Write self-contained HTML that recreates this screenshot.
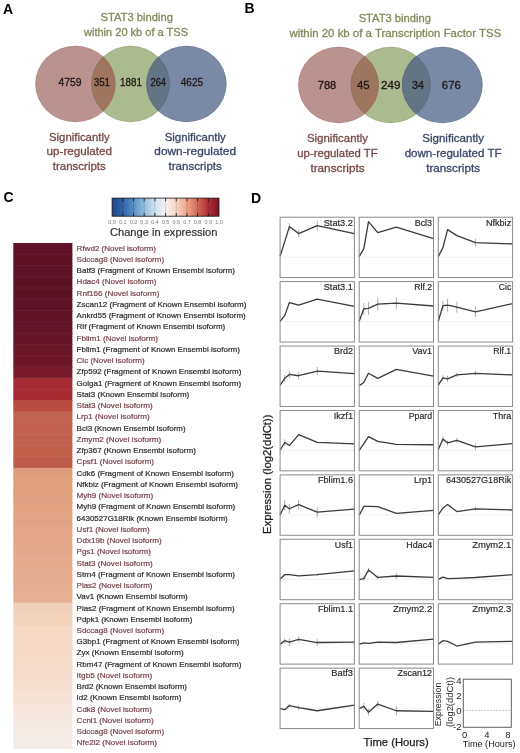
<!DOCTYPE html>
<html><head><meta charset="utf-8"><title>Figure</title>
<style>
html,body{margin:0;padding:0;background:#fff;}
body{width:520px;height:753px;overflow:hidden;}
svg{display:block;font-family:"Liberation Sans", sans-serif;will-change:transform;}
</style></head><body>
<svg width="520" height="753" viewBox="0 0 520 753">
<rect width="520" height="753" fill="#fff"/>
<text x="3" y="14" font-size="14" fill="#000" text-anchor="start" font-weight="bold">A</text>
<text x="244.5" y="13.1" font-size="14" fill="#000" text-anchor="start" font-weight="bold">B</text>
<text x="3.6" y="202.3" font-size="14" fill="#000" text-anchor="start" font-weight="bold">C</text>
<text x="251" y="203.1" font-size="14" fill="#000" text-anchor="start" font-weight="bold">D</text>
<defs><clipPath id="cpa"><ellipse cx="75.4" cy="84" rx="40.2" ry="38.2" /></clipPath><clipPath id="cga"><ellipse cx="130.5" cy="84" rx="39.4" ry="38.2" /></clipPath></defs>
<ellipse cx="75.4" cy="84" rx="40.2" ry="38.2" fill="#bc9290"/>
<ellipse cx="130.5" cy="84" rx="39.4" ry="38.2" fill="#acbb8d"/>
<ellipse cx="186.4" cy="84" rx="40.2" ry="38.2" fill="#7a8aa6"/>
<ellipse cx="130.5" cy="84" rx="39.4" ry="38.2" fill="#9f765d" clip-path="url(#cpa)"/>
<ellipse cx="186.4" cy="84" rx="40.2" ry="38.2" fill="#637485" clip-path="url(#cga)"/>
<ellipse cx="75.4" cy="84" rx="39.80" ry="37.80" fill="none" stroke="#000" stroke-opacity="0.07" stroke-width="0.9"/>
<ellipse cx="130.5" cy="84" rx="39.00" ry="37.80" fill="none" stroke="#000" stroke-opacity="0.07" stroke-width="0.9"/>
<ellipse cx="186.4" cy="84" rx="39.80" ry="37.80" fill="none" stroke="#000" stroke-opacity="0.07" stroke-width="0.9"/>
<text x="136.7" y="20.7" font-size="11.3" fill="#7f8a5c" text-anchor="middle" font-weight="normal" textLength="72.6" lengthAdjust="spacingAndGlyphs" stroke="#7f8a5c" stroke-width="0.3">STAT3 binding</text>
<text x="136" y="35.8" font-size="11.3" fill="#7f8a5c" text-anchor="middle" font-weight="normal" textLength="104" lengthAdjust="spacingAndGlyphs" stroke="#7f8a5c" stroke-width="0.3">within 20 kb of a TSS</text>
<text x="70" y="86.2" font-size="10.6" fill="#1e1616" text-anchor="middle" font-weight="normal" textLength="23" lengthAdjust="spacingAndGlyphs" stroke="#1e1616" stroke-width="0.3">4759</text>
<text x="101.9" y="86.2" font-size="10.6" fill="#1e1616" text-anchor="middle" font-weight="normal" textLength="16.3" lengthAdjust="spacingAndGlyphs" stroke="#1e1616" stroke-width="0.3">351</text>
<text x="131" y="86.2" font-size="10.6" fill="#1e1616" text-anchor="middle" font-weight="normal" textLength="22" lengthAdjust="spacingAndGlyphs" stroke="#1e1616" stroke-width="0.3">1881</text>
<text x="158.3" y="86.2" font-size="10.6" fill="#1e1616" text-anchor="middle" font-weight="normal" textLength="15.5" lengthAdjust="spacingAndGlyphs" stroke="#1e1616" stroke-width="0.3">264</text>
<text x="192" y="86.2" font-size="10.6" fill="#1e1616" text-anchor="middle" font-weight="normal" textLength="22.5" lengthAdjust="spacingAndGlyphs" stroke="#1e1616" stroke-width="0.3">4625</text>
<text x="79.3" y="140.6" font-size="11.4" fill="#764747" text-anchor="middle" font-weight="normal" textLength="60.7" lengthAdjust="spacingAndGlyphs" stroke="#764747" stroke-width="0.3">Significantly</text>
<text x="79.3" y="155.29999999999998" font-size="11.4" fill="#764747" text-anchor="middle" font-weight="normal" textLength="65.5" lengthAdjust="spacingAndGlyphs" stroke="#764747" stroke-width="0.3">up-regulated</text>
<text x="79.3" y="170.0" font-size="11.4" fill="#764747" text-anchor="middle" font-weight="normal" textLength="53" lengthAdjust="spacingAndGlyphs" stroke="#764747" stroke-width="0.3">transcripts</text>
<text x="195.2" y="140.6" font-size="11.4" fill="#3a4565" text-anchor="middle" font-weight="normal" textLength="61.1" lengthAdjust="spacingAndGlyphs" stroke="#3a4565" stroke-width="0.3">Significantly</text>
<text x="195.2" y="155.29999999999998" font-size="11.4" fill="#3a4565" text-anchor="middle" font-weight="normal" textLength="81.7" lengthAdjust="spacingAndGlyphs" stroke="#3a4565" stroke-width="0.3">down-regulated</text>
<text x="195.2" y="170.0" font-size="11.4" fill="#3a4565" text-anchor="middle" font-weight="normal" textLength="53.3" lengthAdjust="spacingAndGlyphs" stroke="#3a4565" stroke-width="0.3">transcripts</text>
<defs><clipPath id="cpb"><ellipse cx="338.5" cy="85" rx="40.4" ry="38.2" /></clipPath><clipPath id="cgb"><ellipse cx="390.6" cy="85" rx="40.1" ry="38.2" /></clipPath></defs>
<ellipse cx="338.5" cy="85" rx="40.4" ry="38.2" fill="#bc9290"/>
<ellipse cx="390.6" cy="85" rx="40.1" ry="38.2" fill="#acbb8d"/>
<ellipse cx="442.3" cy="85" rx="40.4" ry="38.2" fill="#7a8aa6"/>
<ellipse cx="390.6" cy="85" rx="40.1" ry="38.2" fill="#9f765d" clip-path="url(#cpb)"/>
<ellipse cx="442.3" cy="85" rx="40.4" ry="38.2" fill="#637485" clip-path="url(#cgb)"/>
<ellipse cx="338.5" cy="85" rx="40.00" ry="37.80" fill="none" stroke="#000" stroke-opacity="0.07" stroke-width="0.9"/>
<ellipse cx="390.6" cy="85" rx="39.70" ry="37.80" fill="none" stroke="#000" stroke-opacity="0.07" stroke-width="0.9"/>
<ellipse cx="442.3" cy="85" rx="40.00" ry="37.80" fill="none" stroke="#000" stroke-opacity="0.07" stroke-width="0.9"/>
<text x="394.8" y="21.8" font-size="11.3" fill="#7f8a5c" text-anchor="middle" font-weight="normal" textLength="72.3" lengthAdjust="spacingAndGlyphs" stroke="#7f8a5c" stroke-width="0.3">STAT3 binding</text>
<text x="395.3" y="37.1" font-size="11.3" fill="#7f8a5c" text-anchor="middle" font-weight="normal" textLength="211.8" lengthAdjust="spacingAndGlyphs" stroke="#7f8a5c" stroke-width="0.3">within 20 kb of a Transcription Factor TSS</text>
<text x="327" y="89.2" font-size="10.6" fill="#1e1616" text-anchor="middle" font-weight="normal" textLength="18.5" lengthAdjust="spacingAndGlyphs" stroke="#1e1616" stroke-width="0.3">788</text>
<text x="363.3" y="89.2" font-size="10.6" fill="#1e1616" text-anchor="middle" font-weight="normal" textLength="12.7" lengthAdjust="spacingAndGlyphs" stroke="#1e1616" stroke-width="0.3">45</text>
<text x="390.7" y="89.2" font-size="10.6" fill="#1e1616" text-anchor="middle" font-weight="normal" textLength="19.4" lengthAdjust="spacingAndGlyphs" stroke="#1e1616" stroke-width="0.3">249</text>
<text x="417.9" y="89.2" font-size="10.6" fill="#1e1616" text-anchor="middle" font-weight="normal" textLength="12" lengthAdjust="spacingAndGlyphs" stroke="#1e1616" stroke-width="0.3">34</text>
<text x="451.3" y="89.2" font-size="10.6" fill="#1e1616" text-anchor="middle" font-weight="normal" textLength="18.9" lengthAdjust="spacingAndGlyphs" stroke="#1e1616" stroke-width="0.3">676</text>
<text x="337.5" y="142.2" font-size="11.4" fill="#764747" text-anchor="middle" font-weight="normal" textLength="61.1" lengthAdjust="spacingAndGlyphs" stroke="#764747" stroke-width="0.3">Significantly</text>
<text x="337.5" y="156.89999999999998" font-size="11.4" fill="#764747" text-anchor="middle" font-weight="normal" textLength="80.4" lengthAdjust="spacingAndGlyphs" stroke="#764747" stroke-width="0.3">up-regulated TF</text>
<text x="337.5" y="171.6" font-size="11.4" fill="#764747" text-anchor="middle" font-weight="normal" textLength="54.2" lengthAdjust="spacingAndGlyphs" stroke="#764747" stroke-width="0.3">transcripts</text>
<text x="453.1" y="142.2" font-size="11.4" fill="#3a4565" text-anchor="middle" font-weight="normal" textLength="61.8" lengthAdjust="spacingAndGlyphs" stroke="#3a4565" stroke-width="0.3">Significantly</text>
<text x="453.1" y="156.89999999999998" font-size="11.4" fill="#3a4565" text-anchor="middle" font-weight="normal" textLength="96.9" lengthAdjust="spacingAndGlyphs" stroke="#3a4565" stroke-width="0.3">down-regulated TF</text>
<text x="453.1" y="171.6" font-size="11.4" fill="#3a4565" text-anchor="middle" font-weight="normal" textLength="53.9" lengthAdjust="spacingAndGlyphs" stroke="#3a4565" stroke-width="0.3">transcripts</text>
<defs><linearGradient id="cb" x1="0" x2="1" y1="0" y2="0"><stop offset="0.0" stop-color="#1d4684"/><stop offset="0.1" stop-color="#3064aa"/><stop offset="0.2" stop-color="#5990c4"/><stop offset="0.3" stop-color="#93bedc"/><stop offset="0.4" stop-color="#cfe1ee"/><stop offset="0.5" stop-color="#f5f2ef"/><stop offset="0.6" stop-color="#f8d4c0"/><stop offset="0.7" stop-color="#eda487"/><stop offset="0.8" stop-color="#d06a56"/><stop offset="0.9" stop-color="#b02d38"/><stop offset="1.0" stop-color="#7a1226"/></linearGradient></defs>
<rect x="112.1" y="198.1" width="106.9" height="18.099999999999994" fill="url(#cb)" stroke="#111" stroke-width="0.8"/>
<line x1="122.79" y1="198.1" x2="122.79" y2="216.2" stroke="#000" stroke-opacity="0.18" stroke-width="0.8"/>
<line x1="122.79" y1="198.1" x2="122.79" y2="201.29999999999998" stroke="#111" stroke-width="0.8"/>
<line x1="122.79" y1="213.0" x2="122.79" y2="216.2" stroke="#111" stroke-width="0.8"/>
<line x1="133.48" y1="198.1" x2="133.48" y2="216.2" stroke="#000" stroke-opacity="0.18" stroke-width="0.8"/>
<line x1="133.48" y1="198.1" x2="133.48" y2="201.29999999999998" stroke="#111" stroke-width="0.8"/>
<line x1="133.48" y1="213.0" x2="133.48" y2="216.2" stroke="#111" stroke-width="0.8"/>
<line x1="144.17" y1="198.1" x2="144.17" y2="216.2" stroke="#000" stroke-opacity="0.18" stroke-width="0.8"/>
<line x1="144.17" y1="198.1" x2="144.17" y2="201.29999999999998" stroke="#111" stroke-width="0.8"/>
<line x1="144.17" y1="213.0" x2="144.17" y2="216.2" stroke="#111" stroke-width="0.8"/>
<line x1="154.86" y1="198.1" x2="154.86" y2="216.2" stroke="#000" stroke-opacity="0.18" stroke-width="0.8"/>
<line x1="154.86" y1="198.1" x2="154.86" y2="201.29999999999998" stroke="#111" stroke-width="0.8"/>
<line x1="154.86" y1="213.0" x2="154.86" y2="216.2" stroke="#111" stroke-width="0.8"/>
<line x1="165.55" y1="198.1" x2="165.55" y2="216.2" stroke="#000" stroke-opacity="0.18" stroke-width="0.8"/>
<line x1="165.55" y1="198.1" x2="165.55" y2="201.29999999999998" stroke="#111" stroke-width="0.8"/>
<line x1="165.55" y1="213.0" x2="165.55" y2="216.2" stroke="#111" stroke-width="0.8"/>
<line x1="176.24" y1="198.1" x2="176.24" y2="216.2" stroke="#000" stroke-opacity="0.18" stroke-width="0.8"/>
<line x1="176.24" y1="198.1" x2="176.24" y2="201.29999999999998" stroke="#111" stroke-width="0.8"/>
<line x1="176.24" y1="213.0" x2="176.24" y2="216.2" stroke="#111" stroke-width="0.8"/>
<line x1="186.93" y1="198.1" x2="186.93" y2="216.2" stroke="#000" stroke-opacity="0.18" stroke-width="0.8"/>
<line x1="186.93" y1="198.1" x2="186.93" y2="201.29999999999998" stroke="#111" stroke-width="0.8"/>
<line x1="186.93" y1="213.0" x2="186.93" y2="216.2" stroke="#111" stroke-width="0.8"/>
<line x1="197.62" y1="198.1" x2="197.62" y2="216.2" stroke="#000" stroke-opacity="0.18" stroke-width="0.8"/>
<line x1="197.62" y1="198.1" x2="197.62" y2="201.29999999999998" stroke="#111" stroke-width="0.8"/>
<line x1="197.62" y1="213.0" x2="197.62" y2="216.2" stroke="#111" stroke-width="0.8"/>
<line x1="208.31" y1="198.1" x2="208.31" y2="216.2" stroke="#000" stroke-opacity="0.18" stroke-width="0.8"/>
<line x1="208.31" y1="198.1" x2="208.31" y2="201.29999999999998" stroke="#111" stroke-width="0.8"/>
<line x1="208.31" y1="213.0" x2="208.31" y2="216.2" stroke="#111" stroke-width="0.8"/>
<text x="112.10" y="224.4" font-size="5.9" fill="#7a7a7a" text-anchor="middle" font-weight="normal" textLength="7.6" lengthAdjust="spacingAndGlyphs">0.0</text>
<text x="122.79" y="224.4" font-size="5.9" fill="#7a7a7a" text-anchor="middle" font-weight="normal" textLength="7.6" lengthAdjust="spacingAndGlyphs">0.1</text>
<text x="133.48" y="224.4" font-size="5.9" fill="#7a7a7a" text-anchor="middle" font-weight="normal" textLength="7.6" lengthAdjust="spacingAndGlyphs">0.2</text>
<text x="144.17" y="224.4" font-size="5.9" fill="#7a7a7a" text-anchor="middle" font-weight="normal" textLength="7.6" lengthAdjust="spacingAndGlyphs">0.3</text>
<text x="154.86" y="224.4" font-size="5.9" fill="#7a7a7a" text-anchor="middle" font-weight="normal" textLength="7.6" lengthAdjust="spacingAndGlyphs">0.4</text>
<text x="165.55" y="224.4" font-size="5.9" fill="#7a7a7a" text-anchor="middle" font-weight="normal" textLength="7.6" lengthAdjust="spacingAndGlyphs">0.5</text>
<text x="176.24" y="224.4" font-size="5.9" fill="#7a7a7a" text-anchor="middle" font-weight="normal" textLength="7.6" lengthAdjust="spacingAndGlyphs">0.6</text>
<text x="186.93" y="224.4" font-size="5.9" fill="#7a7a7a" text-anchor="middle" font-weight="normal" textLength="7.6" lengthAdjust="spacingAndGlyphs">0.7</text>
<text x="197.62" y="224.4" font-size="5.9" fill="#7a7a7a" text-anchor="middle" font-weight="normal" textLength="7.6" lengthAdjust="spacingAndGlyphs">0.8</text>
<text x="208.31" y="224.4" font-size="5.9" fill="#7a7a7a" text-anchor="middle" font-weight="normal" textLength="7.6" lengthAdjust="spacingAndGlyphs">0.9</text>
<text x="219.00" y="224.4" font-size="5.9" fill="#7a7a7a" text-anchor="middle" font-weight="normal" textLength="7.6" lengthAdjust="spacingAndGlyphs">1.0</text>
<text x="163.7" y="235.8" font-size="11.2" fill="#2e2e2e" text-anchor="middle" font-weight="normal" textLength="107.5" lengthAdjust="spacingAndGlyphs" stroke="#2e2e2e" stroke-width="0.2">Change in expression</text>
<rect x="13.3" y="243.00" width="59.10" height="12.04" fill="#611127"/>
<text x="76.6" y="250.70" font-size="8.0" fill="#76404a" text-anchor="start" font-weight="normal" textLength="79.40" lengthAdjust="spacingAndGlyphs" stroke="#76404a" stroke-width="0.2">Rfwd2 (Novel isoform)</text>
<rect x="13.3" y="254.24" width="59.10" height="12.04" fill="#5e1125"/>
<text x="76.6" y="261.94" font-size="8.0" fill="#76404a" text-anchor="start" font-weight="normal" textLength="87.51" lengthAdjust="spacingAndGlyphs" stroke="#76404a" stroke-width="0.2">Sdccag8 (Novel isoform)</text>
<rect x="13.3" y="265.49" width="59.10" height="12.04" fill="#5e1125"/>
<text x="76.6" y="273.19" font-size="8.0" fill="#2a2a2a" text-anchor="start" font-weight="normal" textLength="158.31" lengthAdjust="spacingAndGlyphs" stroke="#2a2a2a" stroke-width="0.2">Batf3 (Fragment of Known Ensembl isoform)</text>
<rect x="13.3" y="276.73" width="59.10" height="12.04" fill="#5e1125"/>
<text x="76.6" y="284.43" font-size="8.0" fill="#76404a" text-anchor="start" font-weight="normal" textLength="79.89" lengthAdjust="spacingAndGlyphs" stroke="#76404a" stroke-width="0.2">Hdac4 (Novel isoform)</text>
<rect x="13.3" y="287.98" width="59.10" height="12.04" fill="#5e1125"/>
<text x="76.6" y="295.68" font-size="8.0" fill="#76404a" text-anchor="start" font-weight="normal" textLength="82.77" lengthAdjust="spacingAndGlyphs" stroke="#76404a" stroke-width="0.2">Rnf166 (Novel isoform)</text>
<rect x="13.3" y="299.22" width="59.10" height="12.04" fill="#5e1125"/>
<text x="76.6" y="306.92" font-size="8.0" fill="#2a2a2a" text-anchor="start" font-weight="normal" textLength="169.71" lengthAdjust="spacingAndGlyphs" stroke="#2a2a2a" stroke-width="0.2">Zscan12 (Fragment of Known Ensembl isoform)</text>
<rect x="13.3" y="310.46" width="59.10" height="12.04" fill="#5f1226"/>
<text x="76.6" y="318.16" font-size="8.0" fill="#2a2a2a" text-anchor="start" font-weight="normal" textLength="169.16" lengthAdjust="spacingAndGlyphs" stroke="#2a2a2a" stroke-width="0.2">Ankrd55 (Fragment of Known Ensembl isoform)</text>
<rect x="13.3" y="321.71" width="59.10" height="12.04" fill="#621327"/>
<text x="76.6" y="329.41" font-size="8.0" fill="#2a2a2a" text-anchor="start" font-weight="normal" textLength="148.64" lengthAdjust="spacingAndGlyphs" stroke="#2a2a2a" stroke-width="0.2">Rlf (Fragment of Known Ensembl isoform)</text>
<rect x="13.3" y="332.95" width="59.10" height="12.04" fill="#661428"/>
<text x="76.6" y="340.65" font-size="8.0" fill="#76404a" text-anchor="start" font-weight="normal" textLength="81.25" lengthAdjust="spacingAndGlyphs" stroke="#76404a" stroke-width="0.2">Fblim1 (Novel isoform)</text>
<rect x="13.3" y="344.20" width="59.10" height="12.04" fill="#6b1629"/>
<text x="76.6" y="351.90" font-size="8.0" fill="#2a2a2a" text-anchor="start" font-weight="normal" textLength="163.29" lengthAdjust="spacingAndGlyphs" stroke="#2a2a2a" stroke-width="0.2">Fblim1 (Fragment of Known Ensembl isoform)</text>
<rect x="13.3" y="355.44" width="59.10" height="12.04" fill="#6e1729"/>
<text x="76.6" y="363.14" font-size="8.0" fill="#76404a" text-anchor="start" font-weight="normal" textLength="68.04" lengthAdjust="spacingAndGlyphs" stroke="#76404a" stroke-width="0.2">Cic (Novel isoform)</text>
<rect x="13.3" y="366.68" width="59.10" height="12.04" fill="#781b2c"/>
<text x="76.6" y="374.38" font-size="8.0" fill="#2a2a2a" text-anchor="start" font-weight="normal" textLength="164.75" lengthAdjust="spacingAndGlyphs" stroke="#2a2a2a" stroke-width="0.2">Zfp592 (Fragment of Known Ensembl isoform)</text>
<rect x="13.3" y="377.93" width="59.10" height="12.04" fill="#a52a32"/>
<text x="76.6" y="385.63" font-size="8.0" fill="#2a2a2a" text-anchor="start" font-weight="normal" textLength="164.52" lengthAdjust="spacingAndGlyphs" stroke="#2a2a2a" stroke-width="0.2">Golga1 (Fragment of Known Ensembl isoform)</text>
<rect x="13.3" y="389.17" width="59.10" height="12.04" fill="#a72b32"/>
<text x="76.6" y="396.87" font-size="8.0" fill="#2a2a2a" text-anchor="start" font-weight="normal" textLength="112.71" lengthAdjust="spacingAndGlyphs" stroke="#2a2a2a" stroke-width="0.2">Stat3 (Known Ensembl isoform)</text>
<rect x="13.3" y="400.42" width="59.10" height="12.04" fill="#bd4c40"/>
<text x="76.6" y="408.12" font-size="8.0" fill="#76404a" text-anchor="start" font-weight="normal" textLength="76.19" lengthAdjust="spacingAndGlyphs" stroke="#76404a" stroke-width="0.2">Stat3 (Novel isoform)</text>
<rect x="13.3" y="411.66" width="59.10" height="12.04" fill="#c2644f"/>
<text x="76.6" y="419.36" font-size="8.0" fill="#76404a" text-anchor="start" font-weight="normal" textLength="73.13" lengthAdjust="spacingAndGlyphs" stroke="#76404a" stroke-width="0.2">Lrp1 (Novel isoform)</text>
<rect x="13.3" y="422.90" width="59.10" height="12.04" fill="#c1624e"/>
<text x="76.6" y="430.60" font-size="8.0" fill="#2a2a2a" text-anchor="start" font-weight="normal" textLength="109.01" lengthAdjust="spacingAndGlyphs" stroke="#2a2a2a" stroke-width="0.2">Bcl3 (Known Ensembl isoform)</text>
<rect x="13.3" y="434.15" width="59.10" height="12.04" fill="#c0614c"/>
<text x="76.6" y="441.85" font-size="8.0" fill="#76404a" text-anchor="start" font-weight="normal" textLength="84.71" lengthAdjust="spacingAndGlyphs" stroke="#76404a" stroke-width="0.2">Zmym2 (Novel isoform)</text>
<rect x="13.3" y="445.39" width="59.10" height="12.04" fill="#bf604b"/>
<text x="76.6" y="453.09" font-size="8.0" fill="#2a2a2a" text-anchor="start" font-weight="normal" textLength="119.23" lengthAdjust="spacingAndGlyphs" stroke="#2a2a2a" stroke-width="0.2">Zfp367 (Known Ensembl isoform)</text>
<rect x="13.3" y="456.64" width="59.10" height="12.04" fill="#be5e4a"/>
<text x="76.6" y="464.34" font-size="8.0" fill="#76404a" text-anchor="start" font-weight="normal" textLength="77.43" lengthAdjust="spacingAndGlyphs" stroke="#76404a" stroke-width="0.2">Cpsf1 (Novel isoform)</text>
<rect x="13.3" y="467.88" width="59.10" height="12.04" fill="#df9c7a"/>
<text x="76.6" y="475.58" font-size="8.0" fill="#2a2a2a" text-anchor="start" font-weight="normal" textLength="157.38" lengthAdjust="spacingAndGlyphs" stroke="#2a2a2a" stroke-width="0.2">Cdk6 (Fragment of Known Ensembl isoform)</text>
<rect x="13.3" y="479.12" width="59.10" height="12.04" fill="#e09e7c"/>
<text x="76.6" y="486.82" font-size="8.0" fill="#2a2a2a" text-anchor="start" font-weight="normal" textLength="161.44" lengthAdjust="spacingAndGlyphs" stroke="#2a2a2a" stroke-width="0.2">Nfkbiz (Fragment of Known Ensembl isoform)</text>
<rect x="13.3" y="490.37" width="59.10" height="12.04" fill="#e0a07f"/>
<text x="76.6" y="498.07" font-size="8.0" fill="#76404a" text-anchor="start" font-weight="normal" textLength="76.59" lengthAdjust="spacingAndGlyphs" stroke="#76404a" stroke-width="0.2">Myh9 (Novel isoform)</text>
<rect x="13.3" y="501.61" width="59.10" height="12.04" fill="#e1a181"/>
<text x="76.6" y="509.31" font-size="8.0" fill="#2a2a2a" text-anchor="start" font-weight="normal" textLength="158.64" lengthAdjust="spacingAndGlyphs" stroke="#2a2a2a" stroke-width="0.2">Myh9 (Fragment of Known Ensembl isoform)</text>
<rect x="13.3" y="512.86" width="59.10" height="12.04" fill="#e2a383"/>
<text x="76.6" y="520.56" font-size="8.0" fill="#2a2a2a" text-anchor="start" font-weight="normal" textLength="151.16" lengthAdjust="spacingAndGlyphs" stroke="#2a2a2a" stroke-width="0.2">6430527G18Rik (Known Ensembl isoform)</text>
<rect x="13.3" y="524.10" width="59.10" height="12.04" fill="#e3a585"/>
<text x="76.6" y="531.80" font-size="8.0" fill="#76404a" text-anchor="start" font-weight="normal" textLength="73.14" lengthAdjust="spacingAndGlyphs" stroke="#76404a" stroke-width="0.2">Usf1 (Novel isoform)</text>
<rect x="13.3" y="535.34" width="59.10" height="12.04" fill="#e3a788"/>
<text x="76.6" y="543.04" font-size="8.0" fill="#76404a" text-anchor="start" font-weight="normal" textLength="85.01" lengthAdjust="spacingAndGlyphs" stroke="#76404a" stroke-width="0.2">Ddx19b (Novel isoform)</text>
<rect x="13.3" y="546.59" width="59.10" height="12.04" fill="#e4a98a"/>
<text x="76.6" y="554.29" font-size="8.0" fill="#76404a" text-anchor="start" font-weight="normal" textLength="74.24" lengthAdjust="spacingAndGlyphs" stroke="#76404a" stroke-width="0.2">Pgs1 (Novel isoform)</text>
<rect x="13.3" y="557.83" width="59.10" height="12.04" fill="#e5ab8c"/>
<text x="76.6" y="565.53" font-size="8.0" fill="#76404a" text-anchor="start" font-weight="normal" textLength="76.19" lengthAdjust="spacingAndGlyphs" stroke="#76404a" stroke-width="0.2">Stat3 (Novel isoform)</text>
<rect x="13.3" y="569.08" width="59.10" height="12.04" fill="#e6ac8e"/>
<text x="76.6" y="576.78" font-size="8.0" fill="#2a2a2a" text-anchor="start" font-weight="normal" textLength="158.39" lengthAdjust="spacingAndGlyphs" stroke="#2a2a2a" stroke-width="0.2">Strn4 (Fragment of Known Ensembl isoform)</text>
<rect x="13.3" y="580.32" width="59.10" height="12.04" fill="#e6ae91"/>
<text x="76.6" y="588.02" font-size="8.0" fill="#76404a" text-anchor="start" font-weight="normal" textLength="75.91" lengthAdjust="spacingAndGlyphs" stroke="#76404a" stroke-width="0.2">Pias2 (Novel isoform)</text>
<rect x="13.3" y="591.56" width="59.10" height="12.04" fill="#e7b093"/>
<text x="76.6" y="599.26" font-size="8.0" fill="#2a2a2a" text-anchor="start" font-weight="normal" textLength="111.13" lengthAdjust="spacingAndGlyphs" stroke="#2a2a2a" stroke-width="0.2">Vav1 (Known Ensembl isoform)</text>
<rect x="13.3" y="602.81" width="59.10" height="12.04" fill="#f2cfb8"/>
<text x="76.6" y="610.51" font-size="8.0" fill="#2a2a2a" text-anchor="start" font-weight="normal" textLength="157.96" lengthAdjust="spacingAndGlyphs" stroke="#2a2a2a" stroke-width="0.2">Pias2 (Fragment of Known Ensembl isoform)</text>
<rect x="13.3" y="614.05" width="59.10" height="12.04" fill="#f4d3bd"/>
<text x="76.6" y="621.75" font-size="8.0" fill="#2a2a2a" text-anchor="start" font-weight="normal" textLength="115.71" lengthAdjust="spacingAndGlyphs" stroke="#2a2a2a" stroke-width="0.2">Pdpk1 (Known Ensembl isoform)</text>
<rect x="13.3" y="625.30" width="59.10" height="12.04" fill="#f6d8c4"/>
<text x="76.6" y="633.00" font-size="8.0" fill="#76404a" text-anchor="start" font-weight="normal" textLength="87.51" lengthAdjust="spacingAndGlyphs" stroke="#76404a" stroke-width="0.2">Sdccag8 (Novel isoform)</text>
<rect x="13.3" y="636.54" width="59.10" height="12.04" fill="#f6d9c6"/>
<text x="76.6" y="644.24" font-size="8.0" fill="#2a2a2a" text-anchor="start" font-weight="normal" textLength="162.87" lengthAdjust="spacingAndGlyphs" stroke="#2a2a2a" stroke-width="0.2">G3bp1 (Fragment of Known Ensembl isoform)</text>
<rect x="13.3" y="647.78" width="59.10" height="12.04" fill="#f6dac8"/>
<text x="76.6" y="655.48" font-size="8.0" fill="#2a2a2a" text-anchor="start" font-weight="normal" textLength="107.00" lengthAdjust="spacingAndGlyphs" stroke="#2a2a2a" stroke-width="0.2">Zyx (Known Ensembl isoform)</text>
<rect x="13.3" y="659.03" width="59.10" height="12.04" fill="#f6dbca"/>
<text x="76.6" y="666.73" font-size="8.0" fill="#2a2a2a" text-anchor="start" font-weight="normal" textLength="164.72" lengthAdjust="spacingAndGlyphs" stroke="#2a2a2a" stroke-width="0.2">Rbm47 (Fragment of Known Ensembl isoform)</text>
<rect x="13.3" y="670.27" width="59.10" height="12.04" fill="#f5dccc"/>
<text x="76.6" y="677.97" font-size="8.0" fill="#76404a" text-anchor="start" font-weight="normal" textLength="75.65" lengthAdjust="spacingAndGlyphs" stroke="#76404a" stroke-width="0.2">Itgb5 (Novel isoform)</text>
<rect x="13.3" y="681.52" width="59.10" height="12.04" fill="#f5dfd1"/>
<text x="76.6" y="689.22" font-size="8.0" fill="#2a2a2a" text-anchor="start" font-weight="normal" textLength="110.44" lengthAdjust="spacingAndGlyphs" stroke="#2a2a2a" stroke-width="0.2">Brd2 (Known Ensembl isoform)</text>
<rect x="13.3" y="692.76" width="59.10" height="12.04" fill="#f5e2d6"/>
<text x="76.6" y="700.46" font-size="8.0" fill="#2a2a2a" text-anchor="start" font-weight="normal" textLength="104.84" lengthAdjust="spacingAndGlyphs" stroke="#2a2a2a" stroke-width="0.2">Id2 (Known Ensembl isoform)</text>
<rect x="13.3" y="704.00" width="59.10" height="12.04" fill="#f5e5da"/>
<text x="76.6" y="711.70" font-size="8.0" fill="#76404a" text-anchor="start" font-weight="normal" textLength="75.34" lengthAdjust="spacingAndGlyphs" stroke="#76404a" stroke-width="0.2">Cdk8 (Novel isoform)</text>
<rect x="13.3" y="715.25" width="59.10" height="12.04" fill="#f4e7df"/>
<text x="76.6" y="722.95" font-size="8.0" fill="#76404a" text-anchor="start" font-weight="normal" textLength="77.10" lengthAdjust="spacingAndGlyphs" stroke="#76404a" stroke-width="0.2">Ccnl1 (Novel isoform)</text>
<rect x="13.3" y="726.49" width="59.10" height="12.04" fill="#f4e9e3"/>
<text x="76.6" y="734.19" font-size="8.0" fill="#76404a" text-anchor="start" font-weight="normal" textLength="87.51" lengthAdjust="spacingAndGlyphs" stroke="#76404a" stroke-width="0.2">Sdccag8 (Novel isoform)</text>
<rect x="13.3" y="737.74" width="59.10" height="11.24" fill="#f3ebe6"/>
<text x="76.6" y="745.44" font-size="8.0" fill="#76404a" text-anchor="start" font-weight="normal" textLength="80.46" lengthAdjust="spacingAndGlyphs" stroke="#76404a" stroke-width="0.2">Nfe2l2 (Novel isoform)</text>
<line x1="13.3" y1="254.24" x2="72.4" y2="254.24" stroke="#fff" stroke-opacity="0.07" stroke-width="0.8"/>
<line x1="13.3" y1="265.49" x2="72.4" y2="265.49" stroke="#fff" stroke-opacity="0.07" stroke-width="0.8"/>
<line x1="13.3" y1="276.73" x2="72.4" y2="276.73" stroke="#fff" stroke-opacity="0.07" stroke-width="0.8"/>
<line x1="13.3" y1="287.98" x2="72.4" y2="287.98" stroke="#fff" stroke-opacity="0.07" stroke-width="0.8"/>
<line x1="13.3" y1="299.22" x2="72.4" y2="299.22" stroke="#fff" stroke-opacity="0.07" stroke-width="0.8"/>
<line x1="13.3" y1="310.46" x2="72.4" y2="310.46" stroke="#fff" stroke-opacity="0.07" stroke-width="0.8"/>
<line x1="13.3" y1="321.71" x2="72.4" y2="321.71" stroke="#fff" stroke-opacity="0.07" stroke-width="0.8"/>
<line x1="13.3" y1="332.95" x2="72.4" y2="332.95" stroke="#fff" stroke-opacity="0.07" stroke-width="0.8"/>
<line x1="13.3" y1="344.20" x2="72.4" y2="344.20" stroke="#fff" stroke-opacity="0.07" stroke-width="0.8"/>
<line x1="13.3" y1="355.44" x2="72.4" y2="355.44" stroke="#fff" stroke-opacity="0.07" stroke-width="0.8"/>
<line x1="13.3" y1="366.68" x2="72.4" y2="366.68" stroke="#fff" stroke-opacity="0.07" stroke-width="0.8"/>
<line x1="13.3" y1="377.93" x2="72.4" y2="377.93" stroke="#fff" stroke-opacity="0.07" stroke-width="0.8"/>
<line x1="13.3" y1="389.17" x2="72.4" y2="389.17" stroke="#fff" stroke-opacity="0.07" stroke-width="0.8"/>
<line x1="13.3" y1="400.42" x2="72.4" y2="400.42" stroke="#fff" stroke-opacity="0.07" stroke-width="0.8"/>
<line x1="13.3" y1="411.66" x2="72.4" y2="411.66" stroke="#fff" stroke-opacity="0.07" stroke-width="0.8"/>
<line x1="13.3" y1="422.90" x2="72.4" y2="422.90" stroke="#fff" stroke-opacity="0.07" stroke-width="0.8"/>
<line x1="13.3" y1="434.15" x2="72.4" y2="434.15" stroke="#fff" stroke-opacity="0.07" stroke-width="0.8"/>
<line x1="13.3" y1="445.39" x2="72.4" y2="445.39" stroke="#fff" stroke-opacity="0.07" stroke-width="0.8"/>
<line x1="13.3" y1="456.64" x2="72.4" y2="456.64" stroke="#fff" stroke-opacity="0.07" stroke-width="0.8"/>
<line x1="13.3" y1="467.88" x2="72.4" y2="467.88" stroke="#fff" stroke-opacity="0.07" stroke-width="0.8"/>
<line x1="13.3" y1="479.12" x2="72.4" y2="479.12" stroke="#fff" stroke-opacity="0.07" stroke-width="0.8"/>
<line x1="13.3" y1="490.37" x2="72.4" y2="490.37" stroke="#fff" stroke-opacity="0.07" stroke-width="0.8"/>
<line x1="13.3" y1="501.61" x2="72.4" y2="501.61" stroke="#fff" stroke-opacity="0.07" stroke-width="0.8"/>
<line x1="13.3" y1="512.86" x2="72.4" y2="512.86" stroke="#fff" stroke-opacity="0.07" stroke-width="0.8"/>
<line x1="13.3" y1="524.10" x2="72.4" y2="524.10" stroke="#fff" stroke-opacity="0.07" stroke-width="0.8"/>
<line x1="13.3" y1="535.34" x2="72.4" y2="535.34" stroke="#fff" stroke-opacity="0.07" stroke-width="0.8"/>
<line x1="13.3" y1="546.59" x2="72.4" y2="546.59" stroke="#fff" stroke-opacity="0.07" stroke-width="0.8"/>
<line x1="13.3" y1="557.83" x2="72.4" y2="557.83" stroke="#fff" stroke-opacity="0.07" stroke-width="0.8"/>
<line x1="13.3" y1="569.08" x2="72.4" y2="569.08" stroke="#fff" stroke-opacity="0.07" stroke-width="0.8"/>
<line x1="13.3" y1="580.32" x2="72.4" y2="580.32" stroke="#fff" stroke-opacity="0.07" stroke-width="0.8"/>
<line x1="13.3" y1="591.56" x2="72.4" y2="591.56" stroke="#fff" stroke-opacity="0.07" stroke-width="0.8"/>
<line x1="13.3" y1="602.81" x2="72.4" y2="602.81" stroke="#fff" stroke-opacity="0.07" stroke-width="0.8"/>
<line x1="13.3" y1="614.05" x2="72.4" y2="614.05" stroke="#fff" stroke-opacity="0.07" stroke-width="0.8"/>
<line x1="13.3" y1="625.30" x2="72.4" y2="625.30" stroke="#fff" stroke-opacity="0.07" stroke-width="0.8"/>
<line x1="13.3" y1="636.54" x2="72.4" y2="636.54" stroke="#fff" stroke-opacity="0.07" stroke-width="0.8"/>
<line x1="13.3" y1="647.78" x2="72.4" y2="647.78" stroke="#fff" stroke-opacity="0.07" stroke-width="0.8"/>
<line x1="13.3" y1="659.03" x2="72.4" y2="659.03" stroke="#fff" stroke-opacity="0.07" stroke-width="0.8"/>
<line x1="13.3" y1="670.27" x2="72.4" y2="670.27" stroke="#fff" stroke-opacity="0.07" stroke-width="0.8"/>
<line x1="13.3" y1="681.52" x2="72.4" y2="681.52" stroke="#fff" stroke-opacity="0.07" stroke-width="0.8"/>
<line x1="13.3" y1="692.76" x2="72.4" y2="692.76" stroke="#fff" stroke-opacity="0.07" stroke-width="0.8"/>
<line x1="13.3" y1="704.00" x2="72.4" y2="704.00" stroke="#fff" stroke-opacity="0.07" stroke-width="0.8"/>
<line x1="13.3" y1="715.25" x2="72.4" y2="715.25" stroke="#fff" stroke-opacity="0.07" stroke-width="0.8"/>
<line x1="13.3" y1="726.49" x2="72.4" y2="726.49" stroke="#fff" stroke-opacity="0.07" stroke-width="0.8"/>
<line x1="13.3" y1="737.74" x2="72.4" y2="737.74" stroke="#fff" stroke-opacity="0.07" stroke-width="0.8"/>
<line x1="280.1" y1="257.20" x2="354.40" y2="257.20" stroke="#f0f0f0" stroke-width="1"/>
<line x1="289.39" y1="223.10" x2="289.39" y2="230.10" stroke="#999" stroke-width="0.8"/>
<line x1="298.68" y1="230.10" x2="298.68" y2="237.10" stroke="#999" stroke-width="0.8"/>
<line x1="317.25" y1="220.60" x2="317.25" y2="230.60" stroke="#999" stroke-width="0.8"/>
<line x1="354.40" y1="230.60" x2="354.40" y2="236.60" stroke="#999" stroke-width="0.8"/>
<polyline points="280.10,256.30 284.74,241.60 289.39,226.60 298.68,233.60 317.25,225.60 354.40,233.60" fill="none" stroke="#3a3a3a" stroke-width="1.3" stroke-linejoin="round"/>
<rect x="280.1" y="217.2" width="74.3" height="60.4" fill="none" stroke="#8a8a8a" stroke-width="1"/>
<text x="353.00" y="225.50" font-size="9.4" fill="#2a2a2a" text-anchor="end" font-weight="normal" textLength="29.34" lengthAdjust="spacingAndGlyphs" stroke="#2a2a2a" stroke-width="0.2">Stat3.2</text>
<line x1="359.2" y1="257.20" x2="433.50" y2="257.20" stroke="#f0f0f0" stroke-width="1"/>
<polyline points="359.20,256.60 363.84,248.60 368.49,221.60 377.77,232.60 396.35,227.10 433.50,238.60" fill="none" stroke="#3a3a3a" stroke-width="1.3" stroke-linejoin="round"/>
<rect x="359.2" y="217.2" width="74.3" height="60.4" fill="none" stroke="#8a8a8a" stroke-width="1"/>
<text x="432.10" y="225.50" font-size="9.4" fill="#2a2a2a" text-anchor="end" font-weight="normal" textLength="17.41" lengthAdjust="spacingAndGlyphs" stroke="#2a2a2a" stroke-width="0.2">Bcl3</text>
<line x1="438.3" y1="257.20" x2="512.60" y2="257.20" stroke="#f0f0f0" stroke-width="1"/>
<line x1="475.45" y1="238.60" x2="475.45" y2="246.60" stroke="#999" stroke-width="0.8"/>
<polyline points="438.30,256.60 442.94,247.60 447.59,229.60 456.88,235.60 475.45,242.60 512.60,243.90" fill="none" stroke="#3a3a3a" stroke-width="1.3" stroke-linejoin="round"/>
<rect x="438.3" y="217.2" width="74.3" height="60.4" fill="none" stroke="#8a8a8a" stroke-width="1"/>
<text x="511.20" y="225.50" font-size="9.4" fill="#2a2a2a" text-anchor="end" font-weight="normal" textLength="25.25" lengthAdjust="spacingAndGlyphs" stroke="#2a2a2a" stroke-width="0.2">Nfkbiz</text>
<line x1="280.1" y1="321.62" x2="354.40" y2="321.62" stroke="#f0f0f0" stroke-width="1"/>
<polyline points="280.10,321.22 284.74,315.62 289.39,302.52 298.68,305.22 317.25,299.02 354.40,306.32" fill="none" stroke="#3a3a3a" stroke-width="1.3" stroke-linejoin="round"/>
<rect x="280.1" y="281.62" width="74.3" height="60.4" fill="none" stroke="#8a8a8a" stroke-width="1"/>
<text x="353.00" y="289.92" font-size="9.4" fill="#2a2a2a" text-anchor="end" font-weight="normal" textLength="29.34" lengthAdjust="spacingAndGlyphs" stroke="#2a2a2a" stroke-width="0.2">Stat3.1</text>
<line x1="359.2" y1="321.62" x2="433.50" y2="321.62" stroke="#f0f0f0" stroke-width="1"/>
<line x1="363.84" y1="303.02" x2="363.84" y2="314.62" stroke="#999" stroke-width="0.8"/>
<line x1="368.49" y1="301.82" x2="368.49" y2="314.82" stroke="#999" stroke-width="0.8"/>
<line x1="377.77" y1="297.92" x2="377.77" y2="310.32" stroke="#999" stroke-width="0.8"/>
<line x1="396.35" y1="297.02" x2="396.35" y2="309.42" stroke="#999" stroke-width="0.8"/>
<line x1="433.50" y1="300.02" x2="433.50" y2="312.02" stroke="#999" stroke-width="0.8"/>
<polyline points="359.20,321.22 363.84,308.82 368.49,308.32 377.77,304.12 396.35,303.22 433.50,306.02" fill="none" stroke="#3a3a3a" stroke-width="1.3" stroke-linejoin="round"/>
<rect x="359.2" y="281.62" width="74.3" height="60.4" fill="none" stroke="#8a8a8a" stroke-width="1"/>
<text x="432.10" y="289.92" font-size="9.4" fill="#2a2a2a" text-anchor="end" font-weight="normal" textLength="17.87" lengthAdjust="spacingAndGlyphs" stroke="#2a2a2a" stroke-width="0.2">Rlf.2</text>
<line x1="438.3" y1="321.62" x2="512.60" y2="321.62" stroke="#f0f0f0" stroke-width="1"/>
<line x1="442.94" y1="300.62" x2="442.94" y2="310.62" stroke="#999" stroke-width="0.8"/>
<line x1="447.59" y1="298.62" x2="447.59" y2="311.82" stroke="#999" stroke-width="0.8"/>
<line x1="456.88" y1="301.72" x2="456.88" y2="312.72" stroke="#999" stroke-width="0.8"/>
<line x1="475.45" y1="306.42" x2="475.45" y2="317.42" stroke="#999" stroke-width="0.8"/>
<polyline points="438.30,321.22 442.94,305.62 447.59,305.22 456.88,307.22 475.45,311.92 512.60,303.62" fill="none" stroke="#3a3a3a" stroke-width="1.3" stroke-linejoin="round"/>
<rect x="438.3" y="281.62" width="74.3" height="60.4" fill="none" stroke="#8a8a8a" stroke-width="1"/>
<text x="511.20" y="289.92" font-size="9.4" fill="#2a2a2a" text-anchor="end" font-weight="normal" textLength="12.36" lengthAdjust="spacingAndGlyphs" stroke="#2a2a2a" stroke-width="0.2">Cic</text>
<line x1="280.1" y1="386.04" x2="354.40" y2="386.04" stroke="#f0f0f0" stroke-width="1"/>
<line x1="284.74" y1="374.84" x2="284.74" y2="381.84" stroke="#999" stroke-width="0.8"/>
<line x1="289.39" y1="370.74" x2="289.39" y2="378.14" stroke="#999" stroke-width="0.8"/>
<line x1="298.68" y1="371.74" x2="298.68" y2="379.74" stroke="#999" stroke-width="0.8"/>
<line x1="317.25" y1="367.04" x2="317.25" y2="375.04" stroke="#999" stroke-width="0.8"/>
<line x1="354.40" y1="372.64" x2="354.40" y2="374.64" stroke="#999" stroke-width="0.8"/>
<polyline points="280.10,385.04 284.74,378.34 289.39,374.44 298.68,375.74 317.25,371.04 354.40,373.64" fill="none" stroke="#3a3a3a" stroke-width="1.3" stroke-linejoin="round"/>
<rect x="280.1" y="346.03999999999996" width="74.3" height="60.4" fill="none" stroke="#8a8a8a" stroke-width="1"/>
<text x="353.00" y="354.34" font-size="9.4" fill="#2a2a2a" text-anchor="end" font-weight="normal" textLength="19.04" lengthAdjust="spacingAndGlyphs" stroke="#2a2a2a" stroke-width="0.2">Brd2</text>
<line x1="359.2" y1="386.04" x2="433.50" y2="386.04" stroke="#f0f0f0" stroke-width="1"/>
<polyline points="359.20,385.64 363.84,382.54 368.49,373.24 377.77,378.34 396.35,369.44 433.50,376.04" fill="none" stroke="#3a3a3a" stroke-width="1.3" stroke-linejoin="round"/>
<rect x="359.2" y="346.03999999999996" width="74.3" height="60.4" fill="none" stroke="#8a8a8a" stroke-width="1"/>
<text x="432.10" y="354.34" font-size="9.4" fill="#2a2a2a" text-anchor="end" font-weight="normal" textLength="19.82" lengthAdjust="spacingAndGlyphs" stroke="#2a2a2a" stroke-width="0.2">Vav1</text>
<line x1="438.3" y1="386.04" x2="512.60" y2="386.04" stroke="#f0f0f0" stroke-width="1"/>
<line x1="442.94" y1="375.14" x2="442.94" y2="380.54" stroke="#999" stroke-width="0.8"/>
<line x1="447.59" y1="375.84" x2="447.59" y2="381.84" stroke="#999" stroke-width="0.8"/>
<line x1="456.88" y1="372.94" x2="456.88" y2="376.94" stroke="#999" stroke-width="0.8"/>
<line x1="475.45" y1="371.34" x2="475.45" y2="375.34" stroke="#999" stroke-width="0.8"/>
<polyline points="438.30,385.04 442.94,377.84 447.59,378.84 456.88,374.94 475.45,373.34 512.60,374.94" fill="none" stroke="#3a3a3a" stroke-width="1.3" stroke-linejoin="round"/>
<rect x="438.3" y="346.03999999999996" width="74.3" height="60.4" fill="none" stroke="#8a8a8a" stroke-width="1"/>
<text x="511.20" y="354.34" font-size="9.4" fill="#2a2a2a" text-anchor="end" font-weight="normal" textLength="17.87" lengthAdjust="spacingAndGlyphs" stroke="#2a2a2a" stroke-width="0.2">Rlf.1</text>
<line x1="280.1" y1="450.46" x2="354.40" y2="450.46" stroke="#f0f0f0" stroke-width="1"/>
<line x1="284.74" y1="439.46" x2="284.74" y2="445.46" stroke="#999" stroke-width="0.8"/>
<polyline points="280.10,450.26 284.74,442.46 289.39,445.56 298.68,434.66 317.25,442.46 354.40,443.96" fill="none" stroke="#3a3a3a" stroke-width="1.3" stroke-linejoin="round"/>
<rect x="280.1" y="410.46" width="74.3" height="60.4" fill="none" stroke="#8a8a8a" stroke-width="1"/>
<text x="353.00" y="418.76" font-size="9.4" fill="#2a2a2a" text-anchor="end" font-weight="normal" textLength="19.34" lengthAdjust="spacingAndGlyphs" stroke="#2a2a2a" stroke-width="0.2">Ikzf1</text>
<line x1="359.2" y1="450.46" x2="433.50" y2="450.46" stroke="#f0f0f0" stroke-width="1"/>
<polyline points="359.20,450.26 363.84,443.56 368.49,436.66 377.77,441.36 396.35,444.36 433.50,444.76" fill="none" stroke="#3a3a3a" stroke-width="1.3" stroke-linejoin="round"/>
<rect x="359.2" y="410.46" width="74.3" height="60.4" fill="none" stroke="#8a8a8a" stroke-width="1"/>
<text x="432.10" y="418.76" font-size="9.4" fill="#2a2a2a" text-anchor="end" font-weight="normal" textLength="23.32" lengthAdjust="spacingAndGlyphs" stroke="#2a2a2a" stroke-width="0.2">Ppard</text>
<line x1="438.3" y1="450.46" x2="512.60" y2="450.46" stroke="#f0f0f0" stroke-width="1"/>
<line x1="442.94" y1="436.36" x2="442.94" y2="441.76" stroke="#999" stroke-width="0.8"/>
<line x1="447.59" y1="440.26" x2="447.59" y2="445.66" stroke="#999" stroke-width="0.8"/>
<line x1="456.88" y1="437.76" x2="456.88" y2="443.16" stroke="#999" stroke-width="0.8"/>
<line x1="475.45" y1="443.36" x2="475.45" y2="450.36" stroke="#999" stroke-width="0.8"/>
<polyline points="438.30,449.46 442.94,439.06 447.59,442.96 456.88,440.46 475.45,446.86 512.60,443.56" fill="none" stroke="#3a3a3a" stroke-width="1.3" stroke-linejoin="round"/>
<rect x="438.3" y="410.46" width="74.3" height="60.4" fill="none" stroke="#8a8a8a" stroke-width="1"/>
<text x="511.20" y="418.76" font-size="9.4" fill="#2a2a2a" text-anchor="end" font-weight="normal" textLength="18.38" lengthAdjust="spacingAndGlyphs" stroke="#2a2a2a" stroke-width="0.2">Thra</text>
<line x1="280.1" y1="514.88" x2="354.40" y2="514.88" stroke="#f0f0f0" stroke-width="1"/>
<line x1="284.74" y1="500.28" x2="284.74" y2="510.28" stroke="#999" stroke-width="0.8"/>
<line x1="289.39" y1="504.08" x2="289.39" y2="513.48" stroke="#999" stroke-width="0.8"/>
<line x1="298.68" y1="499.88" x2="298.68" y2="509.28" stroke="#999" stroke-width="0.8"/>
<line x1="317.25" y1="507.18" x2="317.25" y2="517.18" stroke="#999" stroke-width="0.8"/>
<line x1="354.40" y1="504.78" x2="354.40" y2="513.38" stroke="#999" stroke-width="0.8"/>
<polyline points="280.10,514.98 284.74,505.28 289.39,508.78 298.68,504.58 317.25,512.18 354.40,509.08" fill="none" stroke="#3a3a3a" stroke-width="1.3" stroke-linejoin="round"/>
<rect x="280.1" y="474.88" width="74.3" height="60.4" fill="none" stroke="#8a8a8a" stroke-width="1"/>
<text x="353.00" y="483.18" font-size="9.4" fill="#2a2a2a" text-anchor="end" font-weight="normal" textLength="35.07" lengthAdjust="spacingAndGlyphs" stroke="#2a2a2a" stroke-width="0.2">Fblim1.6</text>
<line x1="359.2" y1="514.88" x2="433.50" y2="514.88" stroke="#f0f0f0" stroke-width="1"/>
<polyline points="359.20,515.28 363.84,506.38 368.49,506.38 377.77,506.58 396.35,513.38 433.50,510.28" fill="none" stroke="#3a3a3a" stroke-width="1.3" stroke-linejoin="round"/>
<rect x="359.2" y="474.88" width="74.3" height="60.4" fill="none" stroke="#8a8a8a" stroke-width="1"/>
<text x="432.10" y="483.18" font-size="9.4" fill="#2a2a2a" text-anchor="end" font-weight="normal" textLength="18.14" lengthAdjust="spacingAndGlyphs" stroke="#2a2a2a" stroke-width="0.2">Lrp1</text>
<line x1="438.3" y1="514.88" x2="512.60" y2="514.88" stroke="#f0f0f0" stroke-width="1"/>
<line x1="475.45" y1="506.78" x2="475.45" y2="510.78" stroke="#999" stroke-width="0.8"/>
<polyline points="438.30,514.98 442.94,507.98 447.59,504.58 456.88,511.58 475.45,508.78 512.60,509.98" fill="none" stroke="#3a3a3a" stroke-width="1.3" stroke-linejoin="round"/>
<rect x="438.3" y="474.88" width="74.3" height="60.4" fill="none" stroke="#8a8a8a" stroke-width="1"/>
<text x="511.20" y="483.18" font-size="9.4" fill="#2a2a2a" text-anchor="end" font-weight="normal" textLength="65.23" lengthAdjust="spacingAndGlyphs" stroke="#2a2a2a" stroke-width="0.2">6430527G18Rik</text>
<line x1="280.1" y1="579.30" x2="354.40" y2="579.30" stroke="#f0f0f0" stroke-width="1"/>
<line x1="284.74" y1="573.70" x2="284.74" y2="575.70" stroke="#999" stroke-width="0.8"/>
<line x1="317.25" y1="573.70" x2="317.25" y2="575.70" stroke="#999" stroke-width="0.8"/>
<polyline points="280.10,578.90 284.74,574.70 289.39,574.70 298.68,575.80 317.25,574.70 354.40,570.80" fill="none" stroke="#3a3a3a" stroke-width="1.3" stroke-linejoin="round"/>
<rect x="280.1" y="539.3" width="74.3" height="60.4" fill="none" stroke="#8a8a8a" stroke-width="1"/>
<text x="353.00" y="547.60" font-size="9.4" fill="#2a2a2a" text-anchor="end" font-weight="normal" textLength="18.15" lengthAdjust="spacingAndGlyphs" stroke="#2a2a2a" stroke-width="0.2">Usf1</text>
<line x1="359.2" y1="579.30" x2="433.50" y2="579.30" stroke="#f0f0f0" stroke-width="1"/>
<line x1="363.84" y1="576.60" x2="363.84" y2="580.60" stroke="#999" stroke-width="0.8"/>
<line x1="368.49" y1="567.70" x2="368.49" y2="572.30" stroke="#999" stroke-width="0.8"/>
<line x1="377.77" y1="575.40" x2="377.77" y2="579.40" stroke="#999" stroke-width="0.8"/>
<line x1="396.35" y1="573.00" x2="396.35" y2="579.00" stroke="#999" stroke-width="0.8"/>
<polyline points="359.20,579.70 363.84,578.60 368.49,570.00 377.77,577.40 396.35,576.00 433.50,577.40" fill="none" stroke="#3a3a3a" stroke-width="1.3" stroke-linejoin="round"/>
<rect x="359.2" y="539.3" width="74.3" height="60.4" fill="none" stroke="#8a8a8a" stroke-width="1"/>
<text x="432.10" y="547.60" font-size="9.4" fill="#2a2a2a" text-anchor="end" font-weight="normal" textLength="25.80" lengthAdjust="spacingAndGlyphs" stroke="#2a2a2a" stroke-width="0.2">Hdac4</text>
<line x1="438.3" y1="579.30" x2="512.60" y2="579.30" stroke="#f0f0f0" stroke-width="1"/>
<polyline points="438.30,579.40 442.94,577.10 447.59,578.60 456.88,578.30 475.45,577.50 512.60,574.70" fill="none" stroke="#3a3a3a" stroke-width="1.3" stroke-linejoin="round"/>
<rect x="438.3" y="539.3" width="74.3" height="60.4" fill="none" stroke="#8a8a8a" stroke-width="1"/>
<text x="511.20" y="547.60" font-size="9.4" fill="#2a2a2a" text-anchor="end" font-weight="normal" textLength="39.00" lengthAdjust="spacingAndGlyphs" stroke="#2a2a2a" stroke-width="0.2">Zmym2.1</text>
<line x1="280.1" y1="643.72" x2="354.40" y2="643.72" stroke="#f0f0f0" stroke-width="1"/>
<line x1="284.74" y1="638.02" x2="284.74" y2="643.42" stroke="#999" stroke-width="0.8"/>
<line x1="289.39" y1="638.32" x2="289.39" y2="646.12" stroke="#999" stroke-width="0.8"/>
<line x1="298.68" y1="636.42" x2="298.68" y2="642.42" stroke="#999" stroke-width="0.8"/>
<line x1="317.25" y1="639.22" x2="317.25" y2="645.82" stroke="#999" stroke-width="0.8"/>
<line x1="354.40" y1="641.22" x2="354.40" y2="643.22" stroke="#999" stroke-width="0.8"/>
<polyline points="280.10,644.12 284.74,640.72 289.39,642.22 298.68,639.42 317.25,642.52 354.40,642.22" fill="none" stroke="#3a3a3a" stroke-width="1.3" stroke-linejoin="round"/>
<rect x="280.1" y="603.72" width="74.3" height="60.4" fill="none" stroke="#8a8a8a" stroke-width="1"/>
<text x="353.00" y="612.02" font-size="9.4" fill="#2a2a2a" text-anchor="end" font-weight="normal" textLength="35.07" lengthAdjust="spacingAndGlyphs" stroke="#2a2a2a" stroke-width="0.2">Fblim1.1</text>
<line x1="359.2" y1="643.72" x2="433.50" y2="643.72" stroke="#f0f0f0" stroke-width="1"/>
<polyline points="359.20,644.12 363.84,642.92 368.49,643.32 377.77,642.22 396.35,642.52 433.50,639.12" fill="none" stroke="#3a3a3a" stroke-width="1.3" stroke-linejoin="round"/>
<rect x="359.2" y="603.72" width="74.3" height="60.4" fill="none" stroke="#8a8a8a" stroke-width="1"/>
<text x="432.10" y="612.02" font-size="9.4" fill="#2a2a2a" text-anchor="end" font-weight="normal" textLength="39.00" lengthAdjust="spacingAndGlyphs" stroke="#2a2a2a" stroke-width="0.2">Zmym2.2</text>
<line x1="438.3" y1="643.72" x2="512.60" y2="643.72" stroke="#f0f0f0" stroke-width="1"/>
<polyline points="438.30,644.12 442.94,640.72 447.59,641.32 456.88,646.02 475.45,642.22 512.60,641.32" fill="none" stroke="#3a3a3a" stroke-width="1.3" stroke-linejoin="round"/>
<rect x="438.3" y="603.72" width="74.3" height="60.4" fill="none" stroke="#8a8a8a" stroke-width="1"/>
<text x="511.20" y="612.02" font-size="9.4" fill="#2a2a2a" text-anchor="end" font-weight="normal" textLength="39.00" lengthAdjust="spacingAndGlyphs" stroke="#2a2a2a" stroke-width="0.2">Zmym2.3</text>
<line x1="280.1" y1="708.14" x2="354.40" y2="708.14" stroke="#f0f0f0" stroke-width="1"/>
<line x1="289.39" y1="704.04" x2="289.39" y2="707.04" stroke="#999" stroke-width="0.8"/>
<line x1="298.68" y1="705.34" x2="298.68" y2="709.94" stroke="#999" stroke-width="0.8"/>
<polyline points="280.10,708.54 284.74,709.74 289.39,705.54 298.68,707.64 317.25,710.74 354.40,705.14" fill="none" stroke="#3a3a3a" stroke-width="1.3" stroke-linejoin="round"/>
<rect x="280.1" y="668.14" width="74.3" height="60.4" fill="none" stroke="#8a8a8a" stroke-width="1"/>
<text x="353.00" y="676.44" font-size="9.4" fill="#2a2a2a" text-anchor="end" font-weight="normal" textLength="21.70" lengthAdjust="spacingAndGlyphs" stroke="#2a2a2a" stroke-width="0.2">Batf3</text>
<line x1="359.2" y1="708.14" x2="433.50" y2="708.14" stroke="#f0f0f0" stroke-width="1"/>
<line x1="363.84" y1="702.84" x2="363.84" y2="709.84" stroke="#999" stroke-width="0.8"/>
<line x1="368.49" y1="708.74" x2="368.49" y2="715.74" stroke="#999" stroke-width="0.8"/>
<line x1="377.77" y1="700.74" x2="377.77" y2="707.34" stroke="#999" stroke-width="0.8"/>
<line x1="396.35" y1="706.04" x2="396.35" y2="715.44" stroke="#999" stroke-width="0.8"/>
<polyline points="359.20,708.54 363.84,706.34 368.49,712.24 377.77,704.04 396.35,710.74 433.50,711.34" fill="none" stroke="#3a3a3a" stroke-width="1.3" stroke-linejoin="round"/>
<rect x="359.2" y="668.14" width="74.3" height="60.4" fill="none" stroke="#8a8a8a" stroke-width="1"/>
<text x="432.10" y="676.44" font-size="9.4" fill="#2a2a2a" text-anchor="end" font-weight="normal" textLength="34.63" lengthAdjust="spacingAndGlyphs" stroke="#2a2a2a" stroke-width="0.2">Zscan12</text>
<line x1="463.3" y1="710.4" x2="511.3" y2="710.4" stroke="#aaa" stroke-width="0.8" stroke-dasharray="1.5,1.5"/>
<rect x="463.3" y="679.2" width="48.0" height="48.09999999999991" fill="none" stroke="#5e5e5e" stroke-width="1"/>
<text x="461.5" y="683.5" font-size="9.5" fill="#222" text-anchor="end" font-weight="normal">4</text>
<text x="461.5" y="698.5" font-size="9.5" fill="#222" text-anchor="end" font-weight="normal">2</text>
<text x="461.5" y="714" font-size="9.5" fill="#222" text-anchor="end" font-weight="normal">0</text>
<text x="461.5" y="729.5" font-size="9.5" fill="#222" text-anchor="end" font-weight="normal">-2</text>
<text x="464.6" y="737.5" font-size="9.5" fill="#222" text-anchor="middle" font-weight="normal">0</text>
<text x="487" y="737.5" font-size="9.5" fill="#222" text-anchor="middle" font-weight="normal">4</text>
<text x="508" y="737.5" font-size="9.5" fill="#222" text-anchor="middle" font-weight="normal">8</text>
<text x="489.1" y="746.5" font-size="9.6" fill="#222" text-anchor="middle" font-weight="normal" textLength="52.9" lengthAdjust="spacingAndGlyphs">Time (Hours)</text>
<text transform="translate(441.2,704.5) rotate(-90)" font-size="9.4" fill="#222" text-anchor="middle" textLength="43.6" lengthAdjust="spacingAndGlyphs">Expression</text>
<text transform="translate(452.7,702) rotate(-90)" font-size="9.4" fill="#222" text-anchor="middle" textLength="50" lengthAdjust="spacingAndGlyphs">(log2(ddCt))</text>
<text x="396.1" y="745.8" font-size="11.3" fill="#222" text-anchor="middle" font-weight="normal" textLength="65.2" lengthAdjust="spacingAndGlyphs" stroke="#222" stroke-width="0.25">Time (Hours)</text>
<text transform="translate(271,474.2) rotate(-90)" font-size="11.3" fill="#222" stroke="#222" stroke-width="0.25" text-anchor="middle" textLength="119.5" lengthAdjust="spacingAndGlyphs">Expression (log2(ddCt))</text>
</svg>
</body></html>
